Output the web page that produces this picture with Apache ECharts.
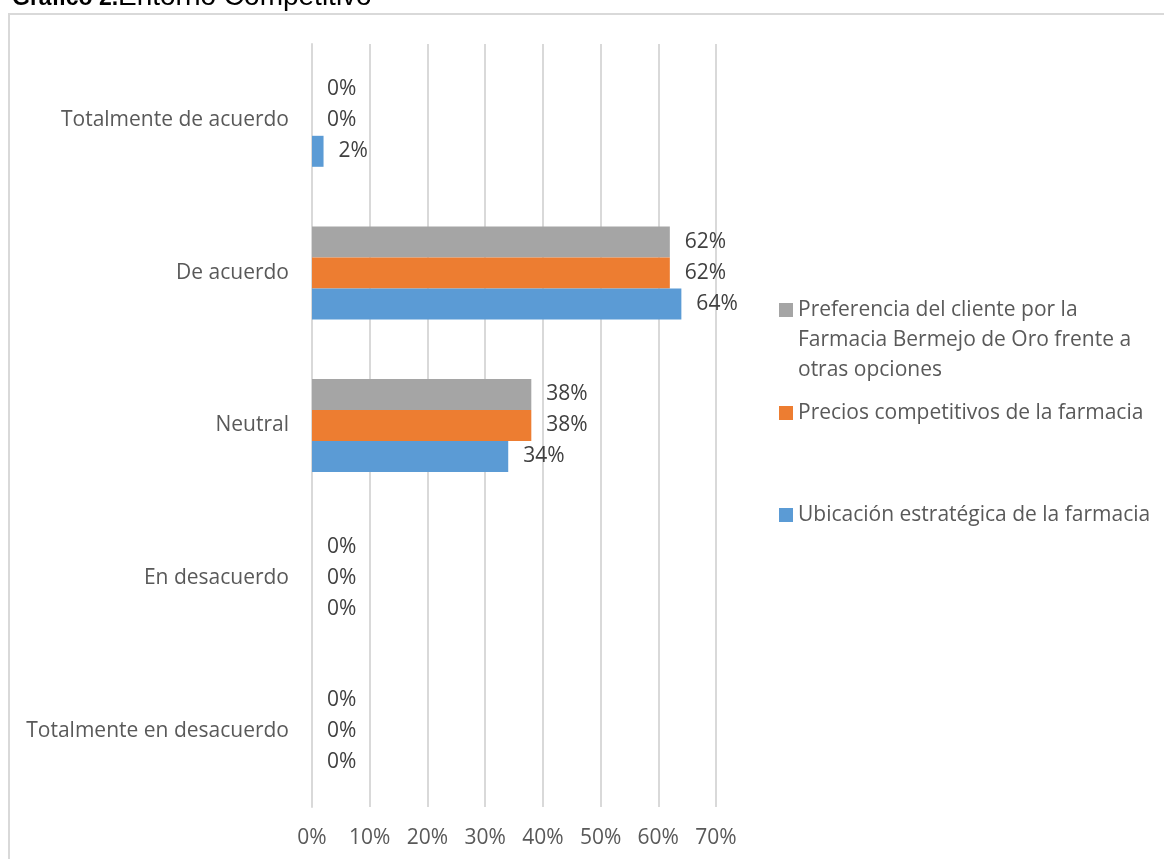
<!DOCTYPE html>
<html>
<head>
<meta charset="utf-8">
<style>
  html, body { margin: 0; padding: 0; background: #ffffff; }
  #chart { width: 1164px; height: 859px; }
</style>
<script src="https://cdn.jsdelivr.net/npm/echarts@6/dist/echarts.min.js"></script>
</head>
<body>
<div id="chart"></div>
<script>
// Response categories, listed bottom to top along the category axis
const categories = [
  'Totalmente en desacuerdo',
  'En desacuerdo',
  'Neutral',
  'De acuerdo',
  'Totalmente de acuerdo'
];

// Percentage of respondents per item
const ubicacion = [0, 0, 34, 64, 2];
const precios = [0, 0, 38, 62, 0];
const preferencia = [0, 0, 38, 62, 0];

const seriesNames = [
  'Ubicación estratégica de la farmacia',
  'Precios competitivos de la farmacia',
  'Preferencia del cliente por la\nFarmacia Bermejo de Oro frente a\notras opciones'
];

const xTicks = [0, 10, 20, 30, 40, 50, 60, 70];

const FONT = '"Open Sans", "Noto Sans", sans-serif';
const TITLE_FONT = '"Liberation Sans", Arial, sans-serif';
const COLORS = ['#5B9BD5', '#ED7D31', '#A5A5A5'];
const FS = 21;

const chart = echarts.init(document.getElementById('chart'), null, { renderer: 'canvas' });

function barSeries(name, data, color) {
  return {
    name: name,
    type: 'bar',
    data: data,
    barWidth: 31,
    barGap: '0%',
    itemStyle: { color: color },
    label: {
      show: true,
      position: 'right',
      distance: 15,
      formatter: '{c}%',
      color: '#404040',
      fontFamily: FONT,
      fontSize: FS
    },
    emphasis: { disabled: true }
  };
}

// One legend block per series so each entry can sit at its own height
function legendBlock(name, top, formatter) {
  const block = {
    orient: 'vertical',
    left: 779,
    top: top,
    padding: 0,
    itemWidth: 14,
    itemHeight: 14,
    icon: 'rect',
    selectedMode: false,
    data: [name],
    textStyle: {
      color: '#595959',
      fontFamily: FONT,
      fontSize: FS,
      lineHeight: 30
    }
  };
  if (formatter) block.formatter = formatter;
  return block;
}

chart.setOption({
  animation: false,
  backgroundColor: '#ffffff',
  grid: { left: 312, right: 448, top: 44, bottom: 52, containLabel: false },
  xAxis: {
    type: 'value',
    min: xTicks[0],
    max: xTicks[xTicks.length - 1],
    interval: 10,
    axisLine: { show: false },
    axisTick: { show: false },
    axisLabel: {
      formatter: '{value}%',
      color: '#595959',
      fontFamily: FONT,
      fontSize: FS,
      margin: 21
    },
    splitLine: { show: true, lineStyle: { color: '#d9d9d9', width: 2 } }
  },
  yAxis: {
    type: 'category',
    data: categories,
    axisLine: { show: true, lineStyle: { color: '#d9d9d9', width: 2 } },
    axisTick: { show: false },
    axisLabel: {
      color: '#595959',
      fontFamily: FONT,
      fontSize: FS,
      margin: 23
    },
    splitLine: { show: false }
  },
  legend: [
    // two blank lines above keep the marker beside the first text line
    legendBlock(seriesNames[2], 235, function (name) { return '\n\n' + name; }),
    legendBlock(seriesNames[1], 398),
    legendBlock(seriesNames[0], 500)
  ],
  series: [
    barSeries(seriesNames[2], preferencia, COLORS[2]),
    barSeries(seriesNames[1], precios, COLORS[1]),
    barSeries(seriesNames[0], ubicacion, COLORS[0])
  ],
  graphic: [
    {
      type: 'rect',
      silent: true,
      shape: { x: 9, y: 14, width: 1200, height: 900 },
      style: { fill: 'none', stroke: '#d9d9d9', lineWidth: 2 }
    },
    // figure caption above the frame: bold number, regular title
    {
      type: 'text',
      silent: true,
      left: 12,
      top: -13,
      style: {
        text: 'Gráfico 2.',
        fontFamily: TITLE_FONT,
        fontSize: 23,
        fontWeight: 'bold',
        fill: '#000000'
      }
    },
    {
      type: 'text',
      silent: true,
      left: 118,
      top: -17,
      style: {
        text: 'Entorno Competitivo',
        fontFamily: TITLE_FONT,
        fontSize: 28,
        fill: '#000000'
      }
    }
  ]
});
</script>
</body>
</html>
